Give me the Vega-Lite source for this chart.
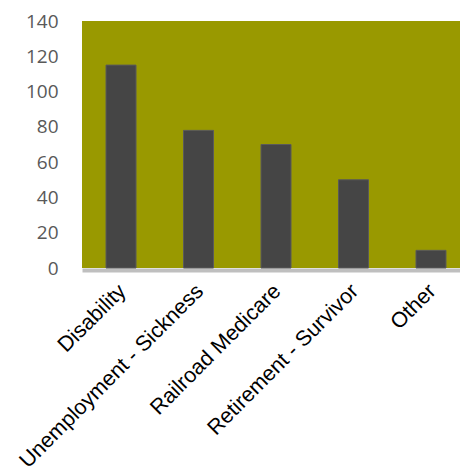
{
  "$schema": "https://vega.github.io/schema/vega-lite/v6.json",
  "width": 388,
  "height": 247,
  "autosize": {"type": "none"},
  "padding": {"left": 82, "top": 21, "right": 0, "bottom": 206},
  "background": "white",
  "config": {
    "view": {"fill": "#999900", "stroke": null}
  },
  "data": {
    "values": [
      {"category": "Disability", "value": 115},
      {"category": "Unemployment - Sickness", "value": 78},
      {"category": "Railroad Medicare", "value": 70},
      {"category": "Retirement - Survivor", "value": 50},
      {"category": "Other", "value": 10}
    ]
  },
  "mark": {"type": "bar", "fill": "#454545", "stroke": "#5a5a5a", "strokeWidth": 1},
  "encoding": {
    "x": {
      "field": "category",
      "type": "nominal",
      "sort": null,
      "scale": {"paddingInner": 0.613, "paddingOuter": 0.31},
      "axis": {
        "title": null,
        "labelAngle": -45,
        "labelAlign": "right",
        "labelBaseline": "top",
        "labelFont": "Liberation Sans",
        "labelFontSize": 21.5,
        "labelColor": "#000000",
        "labelPadding": 10,
        "labelOffset": -6,
        "ticks": false,
        "domainColor": "#bfbfbf",
        "domainWidth": 4,
        "offset": 2,
        "labelLimit": 400
      }
    },
    "y": {
      "field": "value",
      "type": "quantitative",
      "scale": {"domain": [0, 140], "nice": false},
      "axis": {
        "title": null,
        "values": [0, 20, 40, 60, 80, 100, 120, 140],
        "grid": false,
        "domain": false,
        "ticks": false,
        "labelFont": "Open Sans",
        "labelFontSize": 19,
        "labelColor": "#595959",
        "labelPadding": 24
      }
    }
  }
}
